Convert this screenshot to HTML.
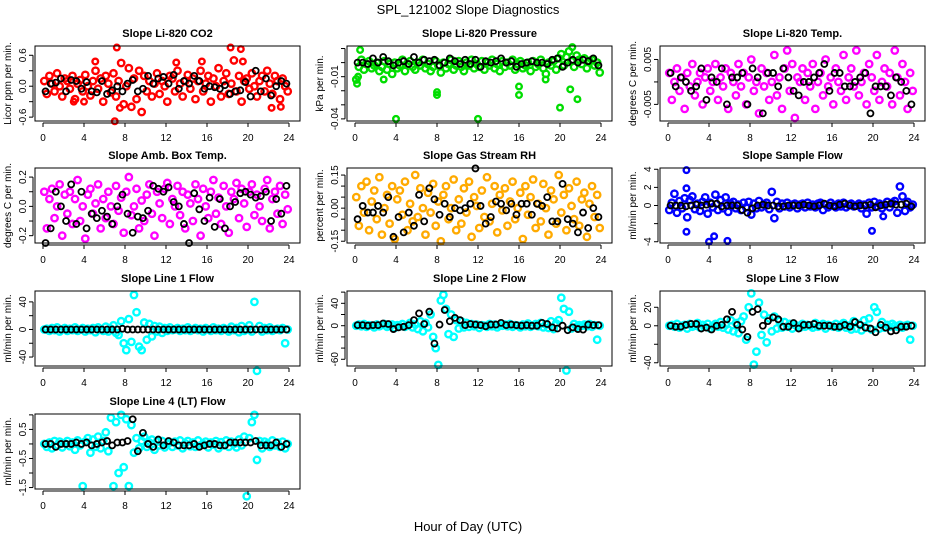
<!DOCTYPE html>
<html><head><meta charset="utf-8">
<style>
html,body{margin:0;padding:0;background:#fff;}
svg{display:block;font-family:"Liberation Sans",sans-serif;}
</style></head>
<body>
<svg id="chart" width="936" height="540" viewBox="0 0 936 540" xmlns="http://www.w3.org/2000/svg">
<rect width="936" height="540" fill="#fff"/>
<text x="468" y="14" text-anchor="middle" font-size="13">SPL_121002  Slope Diagnostics</text>
<text x="468" y="531" text-anchor="middle" font-size="13">Hour of Day (UTC)</text>
</svg>
<script>
const hourTicks=[0,4,8,12,16,20,24];
const co2Vals=[0.1,-0.15,0.2,0.05,-0.1,0.25,0.0,-0.2,0.15,0.1,-0.05,0.2,-0.25,0.05,0.12,-0.1,0.22,0.0,-0.18,0.1,0.3,-0.05,0.15,-0.3,0.2,0.05,-0.12,0.25,-0.2,0.1,0.45,-0.35,0.0,0.35,-0.4,0.15,-0.25,0.3,-0.5,0.2,-0.1,0.1,-0.2,0.05,0.25,-0.15,0.1,0.0,-0.3,0.2,0.15,-0.1,0.3,0.05,-0.2,0.1,0.22,-0.05,0.15,-0.25,0.1,0.3,-0.1,0.05,0.2,-0.3,0.15,0.0,0.35,-0.2,0.1,0.25,-0.15,0.05,0.5,-0.1,0.2,-0.3,0.1,0.15,-0.05,0.25,0.0,-0.2,0.1,0.2,-0.1,0.3,0.05,-0.15,0.2,0.1,-0.25,0.15,0.0,-0.1];
const co2OutHours=[7.2,18.3,19.3,5.1,13.0,15.5,19.5,7.0,7.5,22.3,23.2,3.0,4.0];
const co2OutVals=[0.75,0.75,0.72,0.48,0.46,0.48,0.48,-0.68,-0.42,-0.42,-0.4,-0.3,-0.3];
const co2Black=[-0.1,0.05,0.07,0.15,-0.1,0.12,0.1,-0.05,0.08,-0.1,-0.12,0.1,-0.15,-0.08,0.0,-0.1,0.05,0.12,-0.1,-0.05,0.2,0.05,0.15,0.18,0.05,0.22,-0.05,0.1,0.05,0.2,0.1,-0.05,0.0,-0.02,-0.05,0.02,-0.15,-0.1,-0.08,0.08,-0.2,0.3,-0.1,0.15,-0.18,0.0,0.1,0.05];

const presVals=[-0.012,-0.003,0.002,-0.005,-0.001,0.001,-0.004,-0.002,0.0,-0.006,-0.003,0.001,-0.005,-0.001,-0.008,0.0,-0.004,-0.002,0.002,-0.006,-0.001,0.001,-0.003,-0.005,0.0,-0.002,0.002,-0.004,-0.001,-0.006,-0.003,0.001,-0.002,-0.007,0.0,-0.004,-0.001,0.002,-0.005,-0.002,0.001,-0.003,-0.006,0.0,-0.002,0.002,-0.004,-0.001,-0.003,0.001,-0.005,0.0,-0.002,0.002,-0.004,-0.001,-0.006,0.001,-0.003,0.0,-0.002,0.002,-0.005,-0.001,0.001,-0.004,-0.002,0.0,-0.006,0.001,-0.003,-0.001,0.002,-0.004,-0.008,0.0,-0.002,0.001,-0.005,0.003,0.006,-0.002,0.004,0.008,0.001,-0.003,0.005,0.002,-0.001,0.003,-0.004,0.001,0.002,-0.002,0.0,-0.007];
const presOutHours=[0.2,0.3,2.8,4.0,8.0,8.0,12.0,16.0,16.0,18.6,20.0,21.0,21.7,0.5,21.2];
const presOutVals=[-0.015,-0.01,-0.012,-0.04,-0.021,-0.023,-0.04,-0.017,-0.023,-0.012,-0.032,-0.019,-0.026,0.009,0.011];
const presBlack=[0.0,0.0,-0.001,0.003,0.0,0.004,0.001,-0.002,0.0,0.001,-0.001,0.004,0.0,0.002,0.001,0.002,-0.002,0.0,0.003,0.001,-0.001,0.002,-0.001,0.002,-0.003,0.001,0.0,0.001,0.003,0.0,0.001,-0.003,-0.001,0.0,0.001,0.0,0.0,-0.001,0.002,0.003,-0.003,0.0,0.002,0.0,0.002,0.001,0.003,-0.002];

const tempVals=[0.002,-0.004,0.0,0.003,-0.002,0.001,-0.006,0.002,-0.001,0.004,-0.003,0.0,0.002,-0.005,0.001,0.003,-0.002,0.0,0.004,-0.004,0.001,-0.001,0.003,-0.006,0.002,0.0,-0.003,0.004,-0.001,0.002,-0.005,0.001,0.005,-0.002,0.0,-0.007,0.003,-0.001,0.002,-0.004,0.0,0.006,-0.003,0.001,-0.006,0.003,0.007,-0.002,0.004,-0.008,0.001,0.0,0.003,-0.004,0.002,-0.001,0.004,-0.006,0.0,0.002,-0.003,0.005,-0.001,0.001,-0.005,0.003,0.0,-0.002,0.006,-0.004,0.001,0.003,-0.001,0.007,-0.003,0.0,0.002,-0.005,0.004,0.001,-0.002,0.006,-0.004,0.0,0.003,-0.001,0.002,-0.005,0.007,0.001,-0.003,0.004,0.0,-0.006,0.002,-0.002];
const tempBlack=[0.002,-0.001,0.001,0.0,-0.002,-0.001,0.003,-0.004,0.001,0.0,0.003,-0.005,0.001,0.001,0.002,-0.005,0.003,0.001,-0.007,0.002,0.002,-0.001,0.003,0.001,-0.002,-0.003,0.0,0.0,0.001,0.002,0.004,-0.002,0.002,0.002,-0.001,-0.001,0.0,0.001,0.002,-0.007,-0.001,-0.001,-0.001,-0.003,0.001,0.0,-0.002,-0.005];

const ambVals=[0.1,-0.15,0.05,0.12,-0.08,0.0,0.15,-0.2,0.08,-0.05,0.1,-0.12,0.05,0.18,-0.1,0.0,-0.22,0.08,0.12,-0.05,0.02,0.15,-0.15,0.05,-0.08,0.1,0.0,-0.12,0.14,-0.03,0.06,-0.18,0.1,0.2,-0.06,0.0,0.12,-0.15,0.04,-0.1,0.08,0.15,-0.05,-0.2,0.1,0.02,-0.08,0.12,0.16,-0.12,0.05,0.0,0.14,-0.06,0.1,-0.15,0.08,0.02,-0.1,0.15,0.05,-0.2,0.12,0.0,-0.08,0.1,0.18,-0.05,0.06,-0.12,0.14,0.0,-0.18,0.1,0.05,0.16,-0.08,0.12,0.02,-0.14,0.1,0.15,-0.06,0.08,0.0,-0.1,0.12,0.18,-0.15,0.05,0.1,-0.05,0.14,-0.12,0.08,-0.02];
const ambBlack=[-0.25,-0.15,0.1,0.0,-0.1,0.15,-0.12,0.1,-0.15,-0.05,-0.08,-0.03,-0.07,-0.12,0.0,0.08,-0.05,-0.18,-0.07,-0.08,-0.03,0.14,0.12,0.1,0.13,0.03,0.0,-0.12,-0.25,0.09,-0.02,-0.1,0.06,-0.14,0.05,-0.15,0.0,0.03,0.09,0.1,0.08,0.06,0.07,0.1,-0.1,0.05,-0.05,0.14];

const rhVals=[0.05,-0.08,0.1,-0.02,0.12,-0.1,0.03,0.08,-0.05,0.14,-0.12,0.0,0.06,-0.07,0.1,-0.14,0.04,0.08,-0.03,0.12,-0.1,0.02,-0.06,0.15,-0.04,0.09,0.0,-0.12,0.07,-0.02,0.11,-0.08,0.03,-0.15,0.06,0.1,-0.05,0.0,0.13,-0.1,0.04,-0.07,0.09,-0.02,0.12,-0.13,0.05,0.01,-0.09,0.08,-0.04,0.14,-0.06,0.02,0.1,-0.11,0.06,-0.01,0.09,-0.08,0.03,0.12,-0.05,0.0,0.07,-0.14,0.1,-0.03,0.05,0.13,-0.09,0.02,-0.06,0.11,0.0,-0.12,0.08,0.04,-0.07,0.15,-0.02,0.06,-0.1,0.09,0.01,-0.05,0.12,-0.08,0.04,0.07,-0.13,0.02,0.1,-0.04,0.06,-0.09];
const rhBlack=[-0.05,0.01,-0.02,-0.02,0.01,-0.02,0.05,-0.13,-0.04,-0.11,-0.02,-0.08,0.06,-0.06,0.09,0.04,-0.03,0.02,-0.04,0.0,-0.01,0.0,0.02,0.18,0.01,-0.07,-0.04,0.03,0.02,-0.01,0.02,-0.03,0.02,0.02,-0.03,0.02,0.01,0.05,-0.06,-0.06,0.11,-0.05,-0.07,-0.11,-0.02,-0.09,0.0,-0.04];

const flowVals=[-0.5,0.3,1.3,-0.8,0.5,-0.3,0.8,-1.3,0.6,1.0,-0.4,0.2,-0.6,0.4,0.9,-0.9,0.3,-0.2,1.2,-0.5,0.6,-0.3,0.9,-0.7,0.2,0.4,-0.3,0.1,-0.5,0.3,-0.2,0.4,-1.0,0.2,-0.3,0.5,-0.2,0.1,0.3,-0.4,1.5,-1.4,0.4,-0.3,0.2,-0.1,0.3,-0.2,0.1,0.2,-0.3,0.1,0.2,-0.2,0.3,-0.1,0.1,-0.2,0.2,0.3,-0.5,0.1,-0.2,0.3,0.0,-0.2,0.2,-0.1,0.3,-0.2,0.1,0.2,-0.1,0.0,0.2,-0.3,0.1,-0.9,0.3,-0.2,0.4,-0.1,0.2,-0.3,0.1,0.4,-0.2,0.3,0.5,-0.8,2.1,1.0,-0.6,0.4,-0.2,0.1];
const flowOutHours=[1.8,1.8,4.0,4.5,5.8,19.9,1.8,21.0];
const flowOutVals=[3.9,-2.9,-4.0,-3.4,-3.9,-2.8,1.9,-1.2];
const flowBlack=[0.0,0.0,0.0,-0.1,0.0,0.1,0.0,0.1,0.2,0.2,-0.1,0.0,0.0,0.0,-0.5,-0.8,-0.3,0.0,0.1,0.0,0.0,-0.1,-0.1,0.0,0.0,0.0,0.1,0.0,-0.1,0.0,0.2,0.0,-0.1,0.1,0.2,0.0,-0.1,0.0,0.0,0.1,-0.2,0.0,0.1,0.2,0.1,0.1,0.2,-0.1];

const line1Vals=[0,1,-2,2,-1,3,-3,0,2,-2,1,-1,3,-2,0,2,-3,1,-1,2,-4,3,0,-2,4,-3,1,6,-5,-8,12,-20,-30,15,-18,50,25,-25,-30,10,-15,8,-10,5,-3,4,-5,2,-2,3,-1,0,2,-2,1,-1,3,-2,0,2,-1,1,-3,2,0,-2,3,-1,1,-2,2,0,-3,4,-1,2,-4,5,-2,0,6,-3,40,-60,5,-3,2,-1,3,-2,0,1,-1,2,-20,0];
const line1Black=[0,0,0,0,0,0,0,0,0,0,0,0,0,0,0,1,0,0,0,0,0,0,0,0,0,0,0,0,0,0,0,0,0,0,0,0,0,0,0,0,0,0,0,0,0,0,0,0];

const line2Vals=[0,2,-1,3,-2,1,0,-3,2,-1,1,3,-2,0,2,-4,1,-1,3,-2,0,5,-3,2,-6,8,-10,5,-3,20,-20,-40,-70,45,55,30,-15,20,-20,10,-5,8,-3,5,-2,3,-1,2,-4,1,0,-2,3,-1,2,-3,1,0,2,-1,3,-2,1,0,-3,2,-1,4,-2,0,3,-1,5,-3,2,-4,8,-6,4,10,50,30,-80,25,-5,3,-2,1,0,2,-1,3,-2,1,-25,0];
const line2Black=[1,1,0,1,1,4,3,-6,-3,-2,1,10,22,3,25,-32,2,28,8,14,10,1,3,2,1,-1,2,2,5,1,2,1,0,1,0,0,5,3,-3,-5,0,-8,-3,-6,-7,2,1,1];

const line3Vals=[0,1,-1,2,-2,0,1,-3,2,-1,0,3,-2,1,-1,2,-3,0,2,-1,4,-2,1,-4,6,-6,3,-8,5,10,-15,20,35,-42,-28,25,-10,12,-18,8,-6,10,-3,5,-2,4,-1,2,-3,1,0,-2,2,-1,1,0,-2,3,-1,0,2,-3,1,0,-1,2,-2,1,3,-2,0,-4,5,-3,2,-5,6,-2,8,-4,20,15,-3,4,-2,1,-1,2,0,-1,1,-2,0,1,-15,0];
const line3Black=[0,-1,-1,1,2,2,-3,-2,-4,0,1,7,15,1,-4,-12,15,18,0,5,9,7,-1,-1,3,-3,1,1,2,0,0,0,-1,-1,1,-1,4,1,-2,-3,-7,1,-2,-6,-5,-1,-1,0];

const line4Vals=[0,-0.1,0.05,-0.15,0.1,-0.05,0.08,-0.12,0.02,0.1,-0.08,0.05,-0.2,0.12,-0.05,-1.45,0.08,0.2,-0.3,0.15,-0.1,0.25,-0.15,0.1,0.4,-0.25,0.9,-1.45,0.75,-1.0,1.0,-0.8,0.85,-1.45,0.65,-0.3,0.2,-0.15,0.1,0.25,-0.1,0.05,0.15,-0.2,0.08,-0.05,0.1,-0.12,0.0,0.05,-0.1,0.08,-0.05,0.12,-0.15,0.02,0.1,-0.08,0.05,-0.1,0.12,-0.05,0.0,0.08,-0.12,0.05,-0.02,0.1,-0.15,0.06,-0.05,0.12,-0.1,0.08,0.0,-0.12,0.15,-0.05,0.25,-1.8,0.2,0.75,1.0,-0.55,0.1,-0.15,0.08,0.0,-0.1,0.12,-0.05,0.05,-0.1,0.08,-0.15,0];
const line4Black=[0,0,-0.1,0,0,0,0.05,0,0.05,-0.05,0,0.05,0.1,-0.05,0.05,0.05,0.1,0.85,-0.25,0.38,0,-0.1,0.15,-0.05,0.1,0.05,-0.05,-0.05,-0.05,0,-0.1,-0.05,0,0,-0.05,-0.05,0.05,0.05,0.05,0.05,0.05,0.1,-0.05,-0.05,-0.05,0.05,-0.1,0];

const panels=[
 {key:'co2',title:'Slope Li-820 CO2',ylab:'Licor ppm per min.',col:0,row:0,ymin:-0.675,ymax:0.78,ticks:[-0.6,-0.3,0,0.3,0.6],labels:['-0.6','','0.0','','0.6'],color:'#ff0000',vals:co2Vals,oh:co2OutHours,ov:co2OutVals,blk:co2Black},
 {key:'pressure',title:'Slope Li-820 Pressure',ylab:'kPa per min.',col:1,row:0,ymin:-0.0415,ymax:0.0118,ticks:[0.01,0,-0.01,-0.02,-0.03,-0.04],labels:['','','-0.01','','','-0.04'],color:'#00dd00',vals:presVals,oh:presOutHours,ov:presOutVals,blk:presBlack},
 {key:'temp',title:'Slope Li-820 Temp.',ylab:'degrees C per min.',col:2,row:0,ymin:-0.0087,ymax:0.008,ticks:[0.005,0,-0.005],labels:['0.005','','-0.005'],color:'#ff00ff',vals:tempVals,oh:[],ov:[],blk:tempBlack},
 {key:'amb-temp',title:'Slope Amb. Box Temp.',ylab:'degrees C per min.',col:0,row:1,ymin:-0.25,ymax:0.262,ticks:[-0.2,-0.1,0,0.1,0.2],labels:['-0.2','','0.0','','0.2'],color:'#ff00ff',vals:ambVals,oh:[],ov:[],blk:ambBlack},
 {key:'rh',title:'Slope Gas Stream RH',ylab:'percent per min.',col:1,row:1,ymin:-0.158,ymax:0.182,ticks:[-0.15,-0.1,-0.05,0,0.05,0.1,0.15],labels:['-0.15','','','0.00','','','0.15'],color:'#ffaa00',vals:rhVals,oh:[],ov:[],blk:rhBlack},
 {key:'sample-flow',title:'Slope Sample Flow',ylab:'ml/min per min.',col:2,row:1,ymin:-4.14,ymax:4.14,ticks:[-4,-2,0,2,4],labels:['-4','','0','2','4'],color:'#0000ff',vals:flowVals,oh:flowOutHours,ov:flowOutVals,blk:flowBlack},
 {key:'line1',title:'Slope Line 1 Flow',ylab:'ml/min per min.',col:0,row:2,ymin:-53,ymax:55.8,ticks:[-40,-20,0,20,40],labels:['-40','','0','','40'],color:'#00ffff',vals:line1Vals,oh:[],ov:[],blk:line1Black},
 {key:'line2',title:'Slope Line 2 Flow',ylab:'ml/min per min.',col:1,row:2,ymin:-72,ymax:62,ticks:[-60,-40,-20,0,20,40,60],labels:['-60','','','0','','40',''],color:'#00ffff',vals:line2Vals,oh:[],ov:[],blk:line2Black},
 {key:'line3',title:'Slope Line 3 Flow',ylab:'ml/min per min.',col:2,row:2,ymin:-43.5,ymax:37.6,ticks:[-40,-20,0,20],labels:['-40','','0','20'],color:'#00ffff',vals:line3Vals,oh:[],ov:[],blk:line3Black},
 {key:'line4',title:'Slope Line 4 (LT) Flow',ylab:'ml/min per min.',col:0,row:3,ymin:-1.55,ymax:1.03,ticks:[-1.5,-1,-0.5,0,0.5,1],labels:['-1.5','','-0.5','','0.5',''],color:'#00ffff',vals:line4Vals,oh:[],ov:[],blk:line4Black}
];
const NS='http://www.w3.org/2000/svg';
const svg=document.getElementById('chart');
const colLeft=[35,347,660];
const rowTop=[46,168,291,414];
const W=265,H=75;
function mk(tag,attrs,parent){const e=document.createElementNS(NS,tag);for(const k in attrs)e.setAttribute(k,attrs[k]);parent.appendChild(e);return e;}
panels.forEach(p=>{
  const L=colLeft[p.col],T=rowTop[p.row],R=L+W,B=T+H;
  const xs=h=>L+8+h*(W-19)/24;
  const ys=v=>B-(v-p.ymin)/(p.ymax-p.ymin)*H;
  const g=mk('g',{},svg);
  
  
  const t=mk('text',{x:(L+R)/2,y:T-9,'text-anchor':'middle','font-size':11,'font-weight':'bold'},g);
  t.textContent=p.title;
  
  
  const yl=mk('text',{transform:`translate(${L-24},${(T+B)/2}) rotate(-90)`,'text-anchor':'middle','font-size':10},g);
  yl.textContent=p.ylab;
  
  
  const pts=mk('g',{fill:'none',stroke:p.color,'stroke-width':2.4},g);
  
  
  p.vals.forEach((v,i)=>{const c=mk('circle',{cx:xs((i+0.5)*24/p.vals.length),cy:ys(v),r:3.2},pts);
    
    });
  p.oh.forEach((h,i)=>{const c=mk('circle',{cx:xs(h),cy:ys(p.ov[i]),r:2.8},pts);
    
    });
  const bp=mk('g',{fill:'none',stroke:'#000','stroke-width':1.8},g);
  
  
  p.blk.forEach((v,i)=>{const c=mk('circle',{cx:xs((i+0.5)*24/p.blk.length),cy:ys(v),r:3},bp);
    
    });
  const box=mk('rect',{x:L,y:T,width:W,height:H,fill:'none',stroke:'#000','stroke-width':1},g);
  
  
  const xa=mk('g',{'font-size':10},g);
  
  
  mk('line',{x1:xs(0),x2:xs(24),y1:B+2,y2:B+2,stroke:'#000'},xa);
  hourTicks.forEach(h=>{mk('line',{x1:xs(h),x2:xs(h),y1:B+2,y2:B+6,stroke:'#000'},xa);
    const tx=mk('text',{x:xs(h),y:B+20,'text-anchor':'middle'},xa);tx.textContent=h;
    
    });
  const ya=mk('g',{'font-size':10},g);
  
  
  const tv=p.ticks.map(ys);
  mk('line',{x1:L-2,x2:L-2,y1:Math.min(...tv),y2:Math.max(...tv),stroke:'#000'},ya);
  p.ticks.forEach((v,i)=>{mk('line',{x1:L-6,x2:L-2,y1:ys(v),y2:ys(v),stroke:'#000'},ya);
    if(p.labels[i]){const tx=mk('text',{transform:`translate(${L-9},${ys(v)}) rotate(-90)`,'text-anchor':'middle'},ya);tx.textContent=p.labels[i];
    
    }});
});
</script>
</body></html>
